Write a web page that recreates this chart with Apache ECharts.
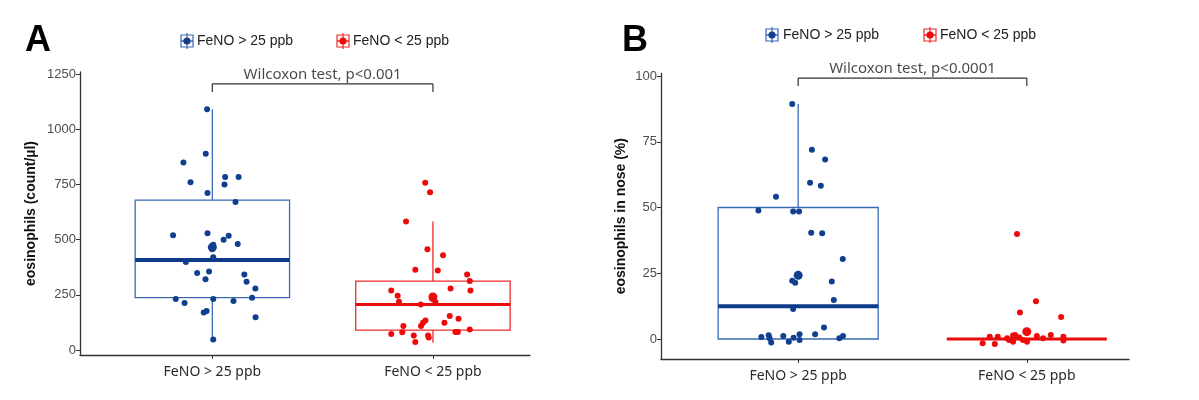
<!DOCTYPE html>
<html><head><meta charset="utf-8">
<script src="https://cdn.jsdelivr.net/npm/echarts@6/dist/echarts.min.js"></script>
<style>html,body{margin:0;padding:0;background:#fff}#c{width:1199px;height:400px}</style>
</head><body><div id="c"></div>
<script>
// ---------- data ----------
const categories = ['FeNO > 25 ppb', 'FeNO < 25 ppb'];
const seriesNames = ['FeNO > 25 ppb', 'FeNO < 25 ppb'];
const ticksA = [0, 250, 500, 750, 1000, 1250];
const ticksB = [0, 25, 50, 75, 100];
const yLabelA = 'eosinophils (count/µl)';
const yLabelB = 'eosinophils in nose (%)';
const testA = 'Wilcoxon test, p<0.001';
const testB = 'Wilcoxon test, p<0.0001';

// Panel A: blood eosinophils (count/µl)
const highA = [1090, 889, 849, 760, 783, 783, 750, 711, 670, 520, 529, 499, 517, 480, 477, 456, 420, 399, 349, 355, 321, 342, 309, 279, 231, 213, 231, 222, 237, 170, 177, 148, 48];
const highAJitter = [-0.024, -0.030, -0.131, -0.099, 0.058, 0.119, 0.055, -0.022, 0.105, -0.178, -0.022, 0.051, 0.074, 0.115, 0.004, -0.001, 0.004, -0.120, -0.069, -0.015, -0.031, 0.145, 0.155, 0.195, -0.166, -0.126, 0.004, 0.096, 0.180, -0.039, -0.026, 0.196, 0.004];
const lowA = [757, 714, 582, 456, 429, 363, 360, 342, 312, 279, 270, 270, 246, 232, 219, 217, 206, 154, 142, 134, 123, 123, 109, 109, 93, 82, 82, 72, 80, 66, 66, 57, 36];
const lowAJitter = [-0.035, -0.013, -0.122, -0.025, 0.046, -0.080, 0.022, 0.155, 0.167, 0.080, -0.189, 0.170, -0.160, -0.004, -0.154, 0.011, -0.055, 0.076, 0.116, -0.034, -0.045, 0.052, -0.054, -0.134, 0.167, 0.102, 0.113, -0.189, -0.139, -0.087, -0.022, -0.019, -0.080];
const meanA = [465, 240];
// box stats: [min, Q1, median, Q3, max]
const boxHighA = [48, 237, 408, 679, 1090];
const boxLowA = [33, 90, 206, 312, 582];
const bracketA = [1168, 1205];

// Panel B: nasal eosinophils (%)
const highB = [89.4, 72, 68.3, 59.4, 58.3, 54.1, 48.9, 48.5, 48.5, 40.4, 40.2, 30.4, 22.2, 21.4, 21.9, 14.8, 11.4, 4.4, 0.8, 1.4, 0.3, -1.3, 1.1, -1.0, 0.5, 1.8, -0.4, 1.8, 0.3, 1.1];
const highBJitter = [-0.026, 0.060, 0.118, 0.052, 0.099, -0.097, -0.174, -0.022, 0.004, 0.057, 0.105, 0.195, -0.026, -0.013, 0.147, 0.156, -0.022, 0.113, -0.161, -0.129, -0.125, -0.118, -0.065, -0.041, -0.020, 0.006, 0.006, 0.074, 0.180, 0.196];
const lowB = [39.9, 14.4, 10.1, 8.4, -1.6, -1.9, 0.9, 0.9, 0.3, 1.3, 1.5, 0.6, -0.4, -1.0, 1.1, 0.3, 1.5, 0.9, -0.6, -1.0, -0.4];
const lowBJitter = [-0.043, 0.040, -0.030, 0.150, -0.193, -0.140, -0.162, -0.127, -0.086, -0.060, -0.051, -0.033, -0.017, 0.001, 0.044, 0.071, 0.105, 0.160, 0.160, -0.060, -0.078];
const meanB = [24.2, 2.8];
const boxHighB = [0, 0, 12.5, 50, 89.4];
const boxLowB = [0, 0, 0, 0, 0];
const bracketB = [96.2, 99.2];

// ---------- styles ----------
const BLUE_PT = '#0f3f8e', BLUE_BOX = '#3a6bb3', BLUE_MED = '#0c3b88';
const RED_PT = '#ee0a0a', RED_BOX = '#f02a2a', RED_MED = '#e80c0c';
const AXIS = '#333333';
const FONT = "'Noto Sans', 'Open Sans', sans-serif";

const chart = echarts.init(document.getElementById('c'), null, {renderer: 'canvas'});

function pts(vals, jit, cat) { return vals.map((v, i) => [cat + jit[i], v]); }

function boxSeries(idx, cat, stats, boxColor, medColor, medWidth) {
  return {
    type: 'custom', xAxisIndex: idx, yAxisIndex: idx, z: 2, silent: true,
    data: [[cat].concat(stats)],
    renderItem: function (params, api) {
      const c = api.value(0), mn = api.value(1), q1 = api.value(2), md = api.value(3), q3 = api.value(4), mx = api.value(5);
      const hw = 0.35;
      const pL1 = api.coord([c - hw, q1]), pR3 = api.coord([c + hw, q3]);
      const pMin = api.coord([c, mn]), pMax = api.coord([c, mx]);
      const pQ1 = api.coord([c, q1]), pQ3 = api.coord([c, q3]);
      const mL = api.coord([c - hw, md]), mR = api.coord([c + hw, md]);
      const children = [];
      if (q3 > q1) {
        children.push({type: 'rect', shape: {x: pL1[0], y: pR3[1], width: pR3[0] - pL1[0], height: pL1[1] - pR3[1]},
          style: {fill: 'none', stroke: boxColor, lineWidth: 1.3}});
      }
      if (mx > q3) children.push({type: 'line', shape: {x1: pQ3[0], y1: pQ3[1], x2: pMax[0], y2: pMax[1]}, style: {stroke: boxColor, lineWidth: 1.3}});
      if (mn < q1) children.push({type: 'line', shape: {x1: pQ1[0], y1: pQ1[1], x2: pMin[0], y2: pMin[1]}, style: {stroke: boxColor, lineWidth: 1.3}});
      children.push({type: 'line', shape: {x1: mL[0], y1: mL[1], x2: mR[0], y2: mR[1]}, style: {stroke: medColor, lineWidth: medWidth}});
      return {type: 'group', children: children};
    }
  };
}

function scatterSeries(idx, name, data, color, size) {
  return {type: 'scatter', name: name, xAxisIndex: idx, yAxisIndex: idx, z: 5, data: data,
    symbolSize: size, itemStyle: {color: color, opacity: 1}, silent: true};
}

function bracketSeries(idx, yy, text) {
  return [
    {type: 'line', xAxisIndex: idx, yAxisIndex: idx, z: 3, silent: true, symbol: 'none',
      data: [[1, yy[0]], [1, yy[1]], [2, yy[1]], [2, yy[0]]],
      lineStyle: {color: '#333', width: 1.2}},
    {type: 'scatter', xAxisIndex: idx, yAxisIndex: idx, z: 3, silent: true, symbolSize: 0,
      data: [[1.5, yy[1]]],
      label: {show: true, position: 'top', distance: 2, formatter: text, fontSize: 15, color: '#1a1a1a', fontFamily: FONT}}
  ];
}

function xAxisCfg(idx, max) {
  return {type: 'value', gridIndex: idx, min: 0.4, max: max,
    axisLine: {show: true, onZero: false, lineStyle: {color: AXIS, width: 1.3}},
    axisTick: {show: true, length: 4, customValues: [1, 2], lineStyle: {color: AXIS}},
    splitLine: {show: false},
    axisLabel: {customValues: [1, 2], formatter: v => categories[Math.round(v) - 1], fontSize: 14, color: '#2a2a2a', margin: 10, fontFamily: FONT}};
}
function yAxisCfg(idx, min, max, ticks, name, gap) {
  return {type: 'value', gridIndex: idx, min: min, max: max,
    name: name, nameLocation: 'middle', nameGap: gap, nameRotate: 90,
    nameTextStyle: {fontSize: 14, fontWeight: 'bold', color: '#111', fontFamily: 'Liberation Sans'},
    axisLine: {show: true, onZero: false, lineStyle: {color: AXIS, width: 1.3}},
    axisTick: {show: true, length: 4, customValues: ticks, lineStyle: {color: AXIS}},
    splitLine: {show: false},
    axisLabel: {customValues: ticks, formatter: v => String(v), fontSize: 13, color: '#4d4d4d', margin: 4, fontFamily: 'Liberation Sans'}};
}

function legendIcon(cx, cy, boxC, ptC) {
  return {type: 'group', children: [
    {type: 'rect', shape: {x: cx - 6, y: cy - 6, width: 12, height: 12}, style: {fill: '#fff', stroke: boxC, lineWidth: 1.2}},
    {type: 'line', shape: {x1: cx, y1: cy - 8, x2: cx, y2: cy + 8}, style: {stroke: boxC, lineWidth: 1.2}},
    {type: 'line', shape: {x1: cx - 6, y1: cy, x2: cx + 6, y2: cy}, style: {stroke: boxC, lineWidth: 1.5}},
    {type: 'circle', shape: {cx: cx, cy: cy, r: 3.6}, style: {fill: ptC}}
  ]};
}
function legendText(x, y, t) {
  return {type: 'text', x: x, y: y, style: {text: t, fontSize: 14, fill: '#222', font: "14px 'Noto Sans', sans-serif", verticalAlign: 'middle'}};
}

const option = {
  animation: false,
  backgroundColor: '#fff',
  title: [
    {text: 'A', left: 20, top: 18, textStyle: {fontSize: 36, fontWeight: 'bold', color: '#000', fontFamily: 'Liberation Sans'}},
    {text: 'B', left: 617, top: 18, textStyle: {fontSize: 36, fontWeight: 'bold', color: '#000', fontFamily: 'Liberation Sans'}}
  ],
  grid: [
    {left: 80, top: 72, width: 450, height: 283},
    {left: 661, top: 73.4, width: 468, height: 285.6}
  ],
  xAxis: [xAxisCfg(0, 2.44), xAxisCfg(1, 2.447)],
  yAxis: [yAxisCfg(0, -22.6, 1259, ticksA, yLabelA, 42), yAxisCfg(1, -7.6, 101, ticksB, yLabelB, 33)],
  graphic: [
    legendIcon(187, 41, BLUE_BOX, BLUE_PT), legendText(197, 41, seriesNames[0]),
    legendIcon(343, 41, RED_BOX, RED_PT), legendText(353, 41, seriesNames[1]),
    legendIcon(772, 35, BLUE_BOX, BLUE_PT), legendText(783, 35, seriesNames[0]),
    legendIcon(930, 35, RED_BOX, RED_PT), legendText(940, 35, seriesNames[1])
  ],
  series: [
    boxSeries(0, 1, boxHighA, BLUE_BOX, BLUE_MED, 4),
    boxSeries(0, 2, boxLowA, RED_BOX, RED_MED, 3),
    boxSeries(1, 1, boxHighB, BLUE_BOX, BLUE_MED, 4),
    boxSeries(1, 2, boxLowB, RED_BOX, RED_MED, 3),
    scatterSeries(0, seriesNames[0], pts(highA, highAJitter, 1), BLUE_PT, 6),
    scatterSeries(0, seriesNames[1], pts(lowA, lowAJitter, 2), RED_PT, 6),
    scatterSeries(0, seriesNames[0], [[1, meanA[0]]], BLUE_PT, 9),
    scatterSeries(0, seriesNames[1], [[2, meanA[1]]], RED_PT, 9),
    scatterSeries(1, seriesNames[0], pts(highB, highBJitter, 1), BLUE_PT, 6),
    scatterSeries(1, seriesNames[1], pts(lowB, lowBJitter, 2), RED_PT, 6),
    scatterSeries(1, seriesNames[0], [[1, meanB[0]]], BLUE_PT, 9),
    scatterSeries(1, seriesNames[1], [[2, meanB[1]]], RED_PT, 9)
  ].concat(bracketSeries(0, bracketA, testA), bracketSeries(1, bracketB, testB))
};
chart.setOption(option);
</script>
</body></html>
